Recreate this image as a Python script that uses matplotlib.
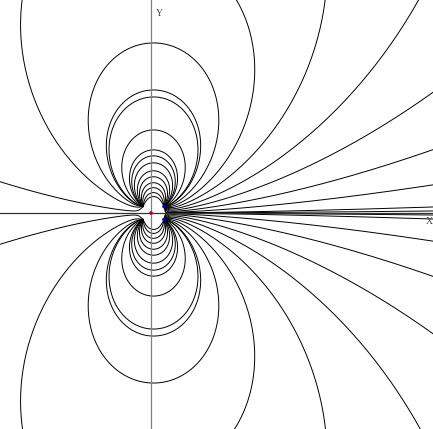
import math
import matplotlib
matplotlib.use("Agg")
import matplotlib.pyplot as plt

# source charges (plot units = pixels, origin at the red marker)
charge_x = [-8.0, -8.0, 13.0, 13.0]
charge_y = [6.5, -6.5, 6.5, -6.5]
charge_q = [-1.0, -1.0, 1.0, 1.0]

# markers shown on the picture
marker_x = [0.0, 13.0, 13.0]
marker_y = [0.0, 6.5, -6.5]
marker_color = ["#c00000", "#0000c0", "#0000c0"]

# where the field lines cross the Y axis (upper half)
loop_heights = [170, 123, 116, 83, 63, 57, 50, 42, 36, 30, 25, 20, 16]
# where lines leave the right edge (upper half)
right_exits = [120, 63, 28, 6, 2]
# where lines leave the top edge
top_exits = [86, 174, 267, -129]
# lines leaving the left edge
left_exits = [31]

x_min, x_max = -151, 282
y_min, y_max = -216, 213


def field(x, y):
    ex = ey = 0.0
    for cx, cy, q in zip(charge_x, charge_y, charge_q):
        dx, dy = x - cx, y - cy
        r2 = dx * dx + dy * dy
        r3 = r2 * math.sqrt(r2)
        ex += q * dx / r3
        ey += q * dy / r3
    return ex, ey


def nearest(x, y):
    best, idx = 1e9, -1
    for i, (cx, cy) in enumerate(zip(charge_x, charge_y)):
        d = math.hypot(x - cx, y - cy)
        if d < best:
            best, idx = d, i
    return best, idx


def trace(x, y, sign):
    # follow the field (sign=+1) or against it (sign=-1)
    xs, ys = [x], [y]
    for _ in range(30000):
        rmin, idx = nearest(x, y)
        ds = min(4.0, max(0.15, 0.05 * rmin))
        ex, ey = field(x, y)
        n = math.hypot(ex, ey) * sign
        mx, my = x + 0.5 * ds * ex / n, y + 0.5 * ds * ey / n
        ex, ey = field(mx, my)
        n = math.hypot(ex, ey) * sign
        x, y = x + ds * ex / n, y + ds * ey / n
        xs.append(x)
        ys.append(y)
        rmin, idx = nearest(x, y)
        if rmin < 0.8:
            xs.append(charge_x[idx])
            ys.append(charge_y[idx])
            break
        if not (x_min - 8 < x < x_max + 8 and y_min - 8 < y < y_max + 8):
            break
    return xs, ys


def full_line(x, y):
    bx, by = trace(x, y, -1)
    fx, fy = trace(x, y, 1)
    return bx[::-1] + fx[1:], by[::-1] + fy[1:]


seeds = []
for h in loop_heights:
    seeds.append((0.0, h))
for h in right_exits:
    seeds.append((x_max - 1.0, h))
for t in top_exits:
    seeds.append((t, y_max - 1.0))
for h in left_exits:
    seeds.append((x_min + 1.0, h))
# mirror into the lower half
seeds += [(sx, -sy) for sx, sy in seeds]

fig = plt.figure(figsize=(4.33, 4.29), dpi=100)
ax = fig.add_axes([0, 0, 1, 1])

for sx, sy in seeds:
    xs, ys = full_line(sx, sy)
    ax.plot(xs, ys, color="black", lw=0.7)

ax.axvline(0, color="#808080", lw=0.9)
ax.axhline(0, color="#333333", lw=0.9)
ax.text(5, y_max - 16, "Y", fontsize=7, family="Liberation Serif", color="#444444")
ax.text(x_max - 7, -11, "X", fontsize=7, family="Liberation Serif", color="#444444")

ax.scatter(marker_x, marker_y, s=7, c=marker_color, zorder=5, linewidths=0)

ax.set_xlim(x_min, x_max)
ax.set_ylim(y_min, y_max)
ax.axis("off")
fig.savefig("out.png", dpi=100)
